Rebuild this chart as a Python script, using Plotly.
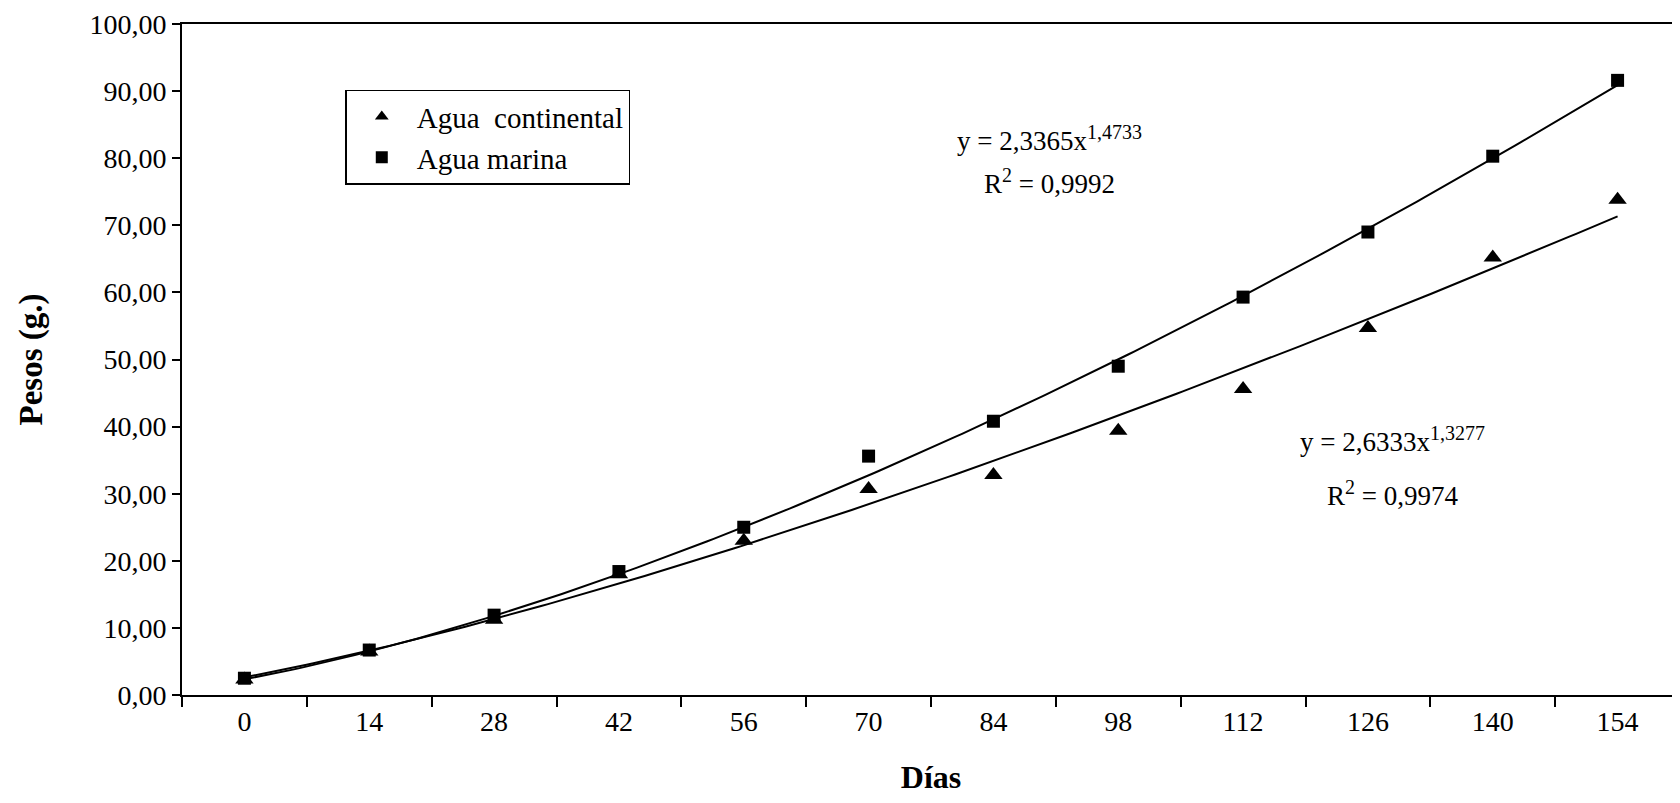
import plotly.graph_objects as go

dias = [0, 14, 28, 42, 56, 70, 84, 98, 112, 126, 140, 154]
continental = [2.3, 6.5, 11.2, 18.0, 23.0, 30.7, 32.8, 39.4, 45.6, 54.7, 65.2, 73.8]
marina = [2.5, 6.7, 11.9, 18.4, 25.0, 35.6, 40.8, 49.0, 59.3, 69.0, 80.3, 91.6]

# Power trend lines as displayed (Excel: x = category index 1..12)
cont_a, cont_b = 2.6333, 1.3277
mar_a, mar_b = 2.3365, 1.4733

FONT = "Liberation Serif, Times New Roman, serif"

n_fine = 200
idx_fine = [1 + 11 * i / (n_fine - 1) for i in range(n_fine)]
x_fine = [(k - 1) * 14 for k in idx_fine]
cont_fit = [cont_a * k ** cont_b for k in idx_fine]
mar_fit = [mar_a * k ** mar_b for k in idx_fine]

fig = go.Figure()
fig.add_trace(go.Scatter(x=x_fine, y=mar_fit, mode="lines",
                         line=dict(color="black", width=2), showlegend=False, hoverinfo="skip"))
fig.add_trace(go.Scatter(x=x_fine, y=cont_fit, mode="lines",
                         line=dict(color="black", width=2), showlegend=False, hoverinfo="skip"))
fig.add_trace(go.Scatter(x=dias, y=continental, mode="markers", name="Agua\u00a0\u00a0continental",
                         marker=dict(symbol="triangle-up", size=16, color="black")))
fig.add_trace(go.Scatter(x=dias, y=marina, mode="markers", name="Agua marina",
                         marker=dict(symbol="square", size=13, color="black")))

fig.update_layout(
    width=1672, height=787,
    paper_bgcolor="white", plot_bgcolor="white",
    margin=dict(l=174, r=0, t=16, b=97),
    separators=", ",
    font=dict(family=FONT, size=28, color="black"),
    showlegend=True,
    legend=dict(x=0.109, y=0.902, xanchor="left", yanchor="top",
                bordercolor="black", borderwidth=1.5, bgcolor="white",
                font=dict(size=29, family=FONT), itemsizing="constant",
                tracegroupgap=0, itemwidth=60),
)

fig.update_xaxes(
    range=[-7, 161], tickmode="array", tickvals=dias, ticktext=[str(d) for d in dias],
    ticks="", showgrid=False, zeroline=False,
    showline=True, linecolor="black", linewidth=2, mirror=True,
    minor=dict(tick0=-7, dtick=14, ticks="outside", ticklen=10, tickcolor="black", tickwidth=1.5, showgrid=False),
    tickfont=dict(size=28, family=FONT),
    title=dict(text="<b>Días</b>", font=dict(size=32, family=FONT), standoff=36),
)
fig.update_yaxes(
    range=[0, 100], dtick=10, tickformat=".2f",
    ticks="outside", ticklen=8, tickcolor="black", tickwidth=1.5,
    showgrid=False, zeroline=False,
    showline=True, linecolor="black", linewidth=2,
    tickfont=dict(size=28, family=FONT),
    title=dict(text="<b>Pesos (g.)</b>", font=dict(size=33, family=FONT), standoff=37),
)

sup_style = "<sup><span style='font-size:20px'>{}</span></sup>"
fig.add_annotation(x=0.579, y=0.829, xref="paper", yref="paper", showarrow=False,
                   text="y = 2,3365x" + sup_style.format("1,4733"), font=dict(size=27, family=FONT),
                   xanchor="center", yanchor="middle")
fig.add_annotation(x=0.579, y=0.766, xref="paper", yref="paper", showarrow=False,
                   text="R" + sup_style.format("2") + " = 0,9992", font=dict(size=27, family=FONT),
                   xanchor="center", yanchor="middle")
fig.add_annotation(x=0.808, y=0.381, xref="paper", yref="paper", showarrow=False,
                   text="y = 2,6333x" + sup_style.format("1,3277"), font=dict(size=27, family=FONT),
                   xanchor="center", yanchor="middle")
fig.add_annotation(x=0.808, y=0.301, xref="paper", yref="paper", showarrow=False,
                   text="R" + sup_style.format("2") + " = 0,9974", font=dict(size=27, family=FONT),
                   xanchor="center", yanchor="middle")

fig.write_html("out.html")
